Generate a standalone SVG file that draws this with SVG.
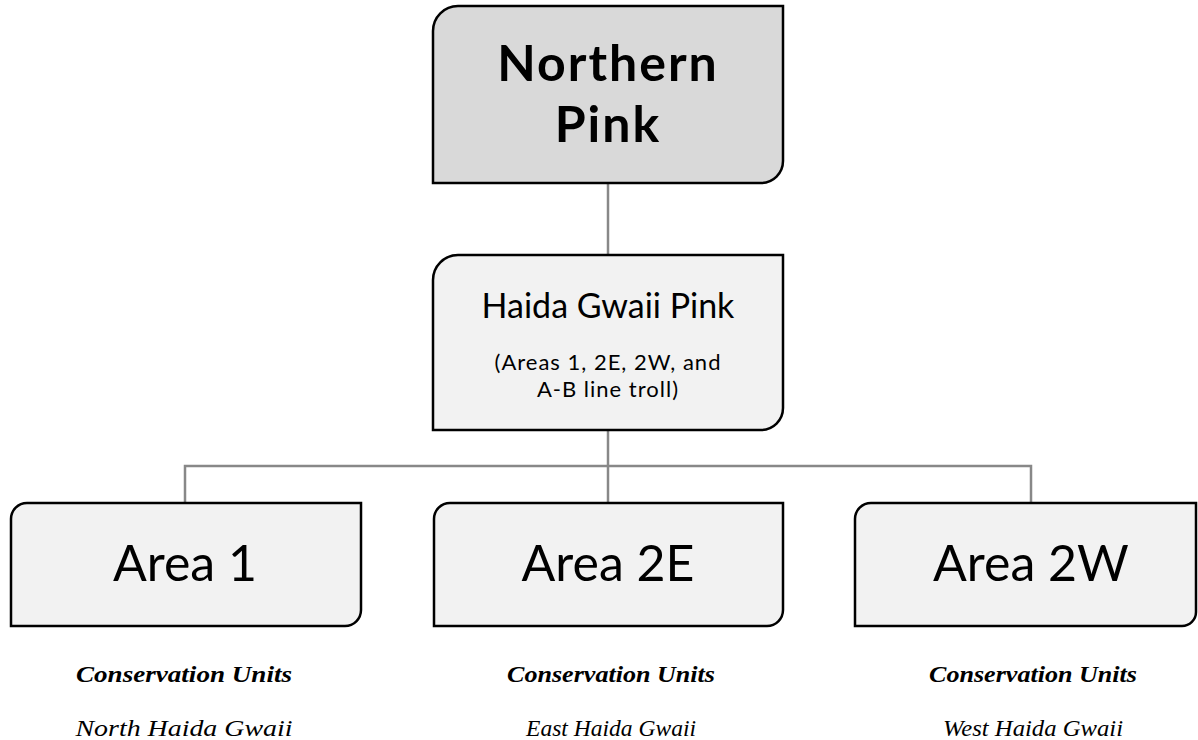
<svg xmlns="http://www.w3.org/2000/svg" width="1198" height="740" viewBox="0 0 1198 740">
<style>
.box{stroke:#000;stroke-width:2.5}
.top{fill:#d9d9d9}
.lt{fill:#f2f2f2}
.conn{stroke:#888;stroke-width:2.5;fill:none}
.sans{font-family:Lato,"Open Sans",sans-serif;fill:#000;text-anchor:middle}
.serif{font-family:"Liberation Serif","DejaVu Serif",serif;font-style:italic;fill:#000;text-anchor:middle;font-size:23px}
</style>
<rect width="1198" height="740" fill="#fff"/>
<g id="connectors">
<line class="conn" x1="608" y1="183" x2="608" y2="255"/>
<line class="conn" x1="608" y1="430" x2="608" y2="503"/>
<polyline class="conn" points="185,503 185,466 1031,466 1031,503"/>
</g>
<g id="northern-pink">
<path class="box top" d="M458,6 H783 V161 A22,22 0 0 1 761,183 H433 V31 A25,25 0 0 1 458,6 Z"/>
<text class="sans" x="608" y="81" font-size="50" font-weight="bold" letter-spacing="2">Northern</text>
<text class="sans" x="608" y="142" font-size="50" font-weight="bold" letter-spacing="2">Pink</text>
</g>
<g id="haida-gwaii-pink">
<path class="box lt" d="M458,255 H783 V408 A22,22 0 0 1 761,430 H433 V280 A25,25 0 0 1 458,255 Z"/>
<text class="sans" x="608" y="318" font-size="34">Haida Gwaii Pink</text>
<text class="sans" x="608" y="370" font-size="22" letter-spacing="1">(Areas 1, 2E, 2W, and</text>
<text class="sans" x="608" y="397" font-size="22" letter-spacing="1">A-B line troll)</text>
</g>
<g id="area-1">
<path class="box lt" d="M27,503 H361 V610 A16,16 0 0 1 345,626 H11 V519 A16,16 0 0 1 27,503 Z"/>
<text class="sans" x="185" y="581" font-size="50">Area 1</text>
<text class="serif" x="184" y="682" font-weight="bold" textLength="216" lengthAdjust="spacingAndGlyphs">Conservation Units</text>
<text class="serif" x="184" y="736" textLength="217" lengthAdjust="spacingAndGlyphs">North Haida Gwaii</text>
</g>
<g id="area-2e">
<path class="box lt" d="M450,503 H783 V610 A16,16 0 0 1 767,626 H434 V519 A16,16 0 0 1 450,503 Z"/>
<text class="sans" x="608" y="581" font-size="50">Area 2E</text>
<text class="serif" x="611" y="682" font-weight="bold" textLength="208" lengthAdjust="spacingAndGlyphs">Conservation Units</text>
<text class="serif" x="611" y="736" textLength="170" lengthAdjust="spacingAndGlyphs">East Haida Gwaii</text>
</g>
<g id="area-2w">
<path class="box lt" d="M871,503 H1196 V612 A14,14 0 0 1 1182,626 H855 V519 A16,16 0 0 1 871,503 Z"/>
<text class="sans" x="1031" y="581" font-size="50">Area 2W</text>
<text class="serif" x="1033" y="682" font-weight="bold" textLength="208" lengthAdjust="spacingAndGlyphs">Conservation Units</text>
<text class="serif" x="1033" y="736" textLength="180" lengthAdjust="spacingAndGlyphs">West Haida Gwaii</text>
</g>
</svg>
